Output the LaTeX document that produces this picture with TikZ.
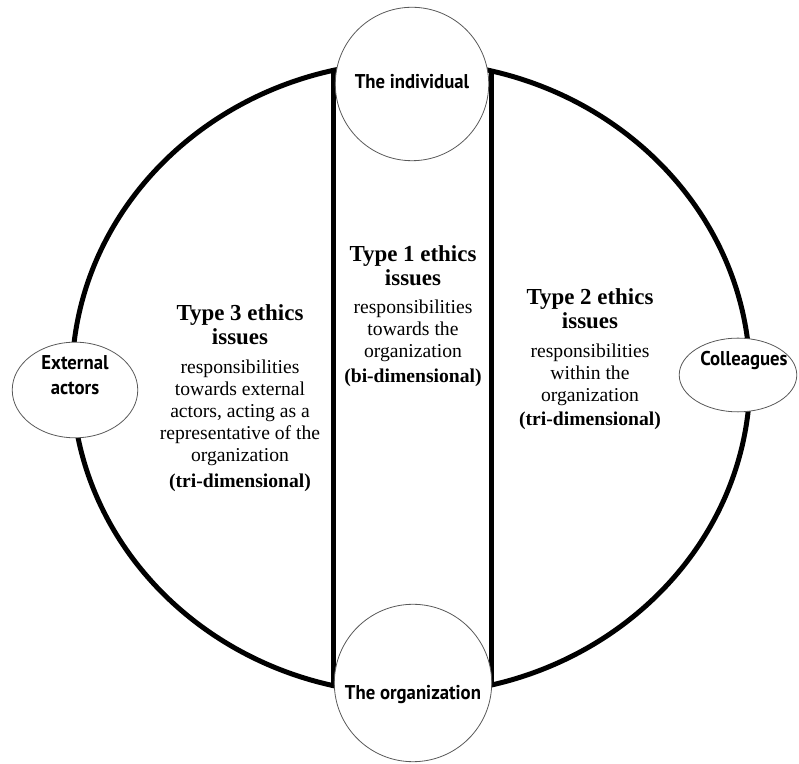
\documentclass[tikz,border=0pt]{standalone}
\usepackage{fontspec}
\setmainfont{Liberation Serif}
\newfontfamily\labelfont{PT Sans}[FakeStretch=0.94]
\usepackage{tikz}
\usetikzlibrary{calc}
\usetikzlibrary{shapes.geometric}

\tikzset{
  party/.style={draw=black!65, line width=0.8pt, fill=white, circle, inner sep=0pt},
  outer/.style={ellipse, draw=black!65, line width=0.8pt, fill=white, inner sep=0pt},
  partytext/.style={font=\labelfont\bfseries\fontsize{20}{25}\selectfont, align=center, inner sep=0pt},
  bound/.style={line width=5pt, black},
  issue/.style={align=center, inner sep=0pt, font=\fontsize{19.7}{22}\selectfont}
}
\newcommand{\headfont}{\bfseries\fontsize{23}{25}\selectfont}

\begin{document}
\begin{tikzpicture}[x=1bp, y=1bp]
    \useasboundingbox (0,0) rectangle (799,764);

    % Centre of the large ellipse
    \coordinate (O) at (411, 386);

    % The large ellipse
    \draw[bound] (O) ellipse [x radius=339, y radius=316];

    % Where the two vertical lines meet the ellipse
    \coordinate (TL) at ($(O)+(103.3:339 and 316)$);
    \coordinate (BL) at ($(O)+(-103.3:339 and 316)$);
    \coordinate (TR) at ($(O)+(76.2:339 and 316)$);
    \coordinate (BR) at ($(O)+(-76.2:339 and 316)$);

    % Draw the vertical lines
    \draw[bound] (TL) -- (BL);
    \draw[bound] (TR) -- (BR);

    % The four parties
    \node[party, minimum size=154, label={[partytext, yshift=2]center:The individual}] (indiv) at (412, 680) {};
    \node[party, minimum size=158, label={[partytext, yshift=-12]center:The organization}] (orgn) at (413, 81) {};
    \node[outer, minimum width=126, minimum height=96, label={[partytext, yshift=15]center:External\\actors}] (ext) at (75, 374) {};
    \node[outer, minimum width=118, minimum height=74, label={[partytext, xshift=6, yshift=15]center:Colleagues}] (coll) at (738, 389) {};

    % Label the three types of issues
    \node[issue, anchor=north] (type3) at (240, 460) {\headfont Type 3 ethics\\[2pt]\headfont issues\\[8pt]responsibilities\\towards external\\actors, acting as a\\representative of the\\organization\\[4pt]\textbf{(tri-dimensional)}};
    \node[issue, anchor=north] (type1) at (413, 519) {\headfont Type 1 ethics\\[2pt]\headfont issues\\[7pt]responsibilities\\towards the\\organization\\[3pt]\textbf{(bi-dimensional)}};
    \node[issue, anchor=north] (type2) at (590, 476) {\headfont Type 2 ethics\\[2pt]\headfont issues\\[8pt]responsibilities\\within the\\organization\\[2pt]\textbf{(tri-dimensional)}};
\end{tikzpicture}
\end{document}
